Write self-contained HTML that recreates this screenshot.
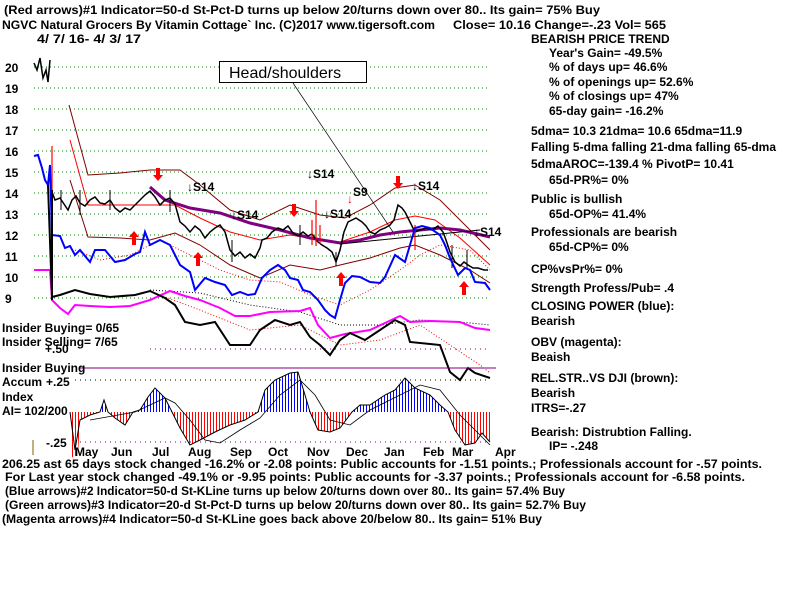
<!DOCTYPE html>
<html><head><meta charset="utf-8"><style>
html,body{margin:0;padding:0;background:#fff;width:800px;height:600px;overflow:hidden}
svg text{font-family:"Liberation Sans",sans-serif;font-weight:bold;font-size:12px;fill:#000}
</style></head><body>
<svg width="800" height="600" xmlns="http://www.w3.org/2000/svg">
<defs>
<pattern id="pb" width="3" height="10" patternUnits="userSpaceOnUse"><rect width="1" height="10" fill="#0000ff"/></pattern>
<pattern id="pr" width="3" height="10" patternUnits="userSpaceOnUse"><rect width="1" height="10" fill="#ff0000"/></pattern>
<clipPath id="ca"><rect x="0" y="300" width="800" height="112"/></clipPath>
<clipPath id="cb"><rect x="0" y="412" width="800" height="60"/></clipPath>
</defs>
<rect width="800" height="600" fill="#fff"/>
<text x="4" y="14" textLength="596" lengthAdjust="spacingAndGlyphs">(Red arrows)#1 Indicator=50-d St-Pct-D turns up below 20/turns down over 80.. Its gain= 75% Buy</text>
<text x="2" y="29" textLength="433" lengthAdjust="spacingAndGlyphs">NGVC  Natural Grocers By Vitamin Cottage` Inc.  (C)2017 www.tigersoft.com</text>
<text x="453" y="29" textLength="213" lengthAdjust="spacingAndGlyphs">Close=  10.16  Change=-.23 Vol= 565</text>
<text x="37" y="43" textLength="104" lengthAdjust="spacingAndGlyphs">4/ 7/ 16- 4/ 3/ 17</text>
<g stroke="#008000" stroke-dasharray="1,3" stroke-width="1">
<line x1="34" y1="67" x2="490" y2="67"/><line x1="34" y1="88" x2="490" y2="88"/><line x1="34" y1="109" x2="490" y2="109"/><line x1="34" y1="130" x2="490" y2="130"/><line x1="34" y1="151" x2="490" y2="151"/><line x1="34" y1="172" x2="490" y2="172"/><line x1="34" y1="193" x2="490" y2="193"/><line x1="34" y1="214" x2="490" y2="214"/><line x1="34" y1="235" x2="490" y2="235"/><line x1="34" y1="256" x2="490" y2="256"/><line x1="34" y1="277" x2="490" y2="277"/><line x1="34" y1="298" x2="490" y2="298"/>
</g>
<g><text x="5" y="72">20</text><text x="5" y="93">19</text><text x="5" y="114">18</text><text x="5" y="135">17</text><text x="5" y="156">16</text><text x="5" y="177">15</text><text x="5" y="198">14</text><text x="5" y="219">13</text><text x="5" y="240">12</text><text x="5" y="261">11</text><text x="5" y="282">10</text><text x="5" y="303">9</text></g>
<polyline fill="none" stroke="#800000" points="69,105 88,175 120,173 150,170 180,170 200,185 230,210 260,220 290,205 320,215 345,218 370,205 395,188 415,185 440,200 470,230 490,250"/>
<polyline fill="none" stroke="#800000" points="70,180 88,237 120,238 150,240 175,233 200,245 230,265 260,278 290,265 320,270 340,265 370,258 400,248 415,245 440,255 470,270 490,283"/>
<polyline fill="none" stroke="#ff0000" points="70,140 88,205 120,205 150,205 175,205 200,218 230,232 260,240 290,235 310,238 340,242 370,232 395,220 415,216 435,220 460,238 490,265"/>
<polyline fill="none" stroke="#ff0000" stroke-dasharray="1,2" points="75,250 100,260 130,255 160,240 190,255 220,270 250,280 280,282 310,295 340,305 370,290 400,270 420,255 440,245 470,250 490,270"/>
<polyline fill="none" stroke="#800080" stroke-width="3" points="150,187 165,200 190,208 220,213 250,223 280,230 310,238 340,243 360,240 380,235 400,232 420,230 440,228 460,230 490,237"/>
<line x1="340" y1="244" x2="480" y2="230" stroke="#000"/>
<polyline fill="none" stroke="#000" stroke-width="1.5" points="34,63 37,70 40,58 43,78 46,70 48,82 50,60"/>
<polyline fill="none" stroke="#000" stroke-width="1.5" points="52,192 55,200 60,198 64,204 68,210 72,200 76,196 80,203 85,206 90,200 95,197 100,203 105,204 110,200 115,208 120,212 125,208 130,210 135,205 140,200 145,195 150,191 155,197 160,205 165,200 170,198 175,204 180,222 185,226 190,232 195,226 200,230 205,238 210,232 215,228 220,225 225,232 230,250 235,256 240,252 245,258 250,254 255,258 260,248 262,240 267,238 272,232 278,228 283,230 288,226 293,233 298,236 303,232 308,236 312,234 318,242 322,245 327,248 332,252 336,262 340,250 344,232 348,222 352,220 356,218 362,222 366,226 370,232 375,234 380,230 385,228 390,225 394,220 398,205 402,208 405,212 410,222 415,232 420,230 426,228 432,230 438,226 443,232 446,240 450,252 455,262 460,266 464,262 468,265 473,268 478,268 484,270 488,270"/>
<g stroke="#000" stroke-width="1"><line x1="61" y1="190" x2="61" y2="210"/><line x1="80" y1="190" x2="80" y2="215"/><line x1="110" y1="190" x2="110" y2="210"/><line x1="170" y1="190" x2="170" y2="212"/><line x1="232" y1="240" x2="232" y2="262"/><line x1="300" y1="225" x2="300" y2="245"/><line x1="336" y1="252" x2="336" y2="266"/><line x1="452" y1="245" x2="452" y2="268"/><line x1="467" y1="250" x2="467" y2="268"/></g>
<g stroke="#ff0000" stroke-width="1.2"><line x1="52" y1="146" x2="52" y2="205"/><line x1="316" y1="200" x2="316" y2="246"/><line x1="312" y1="220" x2="312" y2="245"/><line x1="320" y1="225" x2="320" y2="244"/><line x1="415" y1="225" x2="415" y2="250"/></g>
<polyline fill="none" stroke="#0000ff" stroke-width="2" points="34,156 38,155 42,168 45,180 48,185 50,165 52,235 60,236 65,248 70,246 75,255 80,250 90,262 95,250 105,250 115,262 125,260 135,254 140,252 145,232 150,245 160,240 170,245 180,265 190,272 195,290 205,278 215,282 225,285 232,295 240,292 248,295 255,294 262,278 270,270 278,265 285,270 290,278 298,280 303,290 310,292 318,300 325,310 330,315 335,318 340,300 345,283 352,276 360,277 370,282 380,283 385,277 395,255 405,262 410,245 415,228 422,226 430,228 440,235 445,245 450,258 458,275 465,268 470,270 475,282 485,283 490,290"/>
<polyline fill="none" stroke="#000" stroke-dasharray="1,2" points="150,290 200,293 250,305 300,312 340,325 380,325 420,320 460,322 490,325"/>
<polyline fill="none" stroke="#ff0000" stroke-dasharray="1,2" points="160,295 200,310 250,330 300,325 340,345 380,340 420,325 450,345 480,365 490,373"/>
<polyline fill="none" stroke="#ff00ff" stroke-width="2" points="34,270 50,270 52,300 60,308 68,314 75,305 90,306 110,307 130,306 150,300 170,291 185,296 200,300 220,308 235,316 250,316 270,312 300,311 310,308 318,325 330,338 345,334 370,330 385,323 400,316 410,322 430,321 460,322 475,328 490,330"/>
<polyline fill="none" stroke="#000" stroke-width="2" points="48,185 52,297 60,295 75,290 90,294 110,297 135,295 150,291 165,298 175,305 185,322 200,325 215,322 230,345 250,345 260,330 275,320 290,325 300,322 310,337 320,345 330,355 340,340 350,333 365,340 380,330 395,320 405,325 410,342 430,344 440,345 450,372 460,380 468,368 475,373 490,378"/>
<line x1="52" y1="190" x2="52" y2="300" stroke="#000" stroke-width="2"/>
<g fill="#ff0000"><path d="M132,245 h4 v-8 h3 l-5,-6 l-5,6 h3z"/><path d="M196,266 h4 v-8 h3 l-5,-6 l-5,6 h3z"/><path d="M339,286 h4 v-8 h3 l-5,-6 l-5,6 h3z"/><path d="M462,295 h4 v-8 h3 l-5,-6 l-5,6 h3z"/><path d="M156,168 h4 v7 h3 l-5,6 l-5,-6 h3z"/><path d="M292,204 h4 v7 h3 l-5,6 l-5,-6 h3z"/><path d="M396,176 h4 v7 h3 l-5,6 l-5,-6 h3z"/></g>
<text x="347" y="203" style="fill:#ff0000">↓</text>
<g><text x="187" y="191">↓S14</text><text x="231" y="219">↓S14</text><text x="307" y="178">↓S14</text><text x="324" y="218">↓S14</text><text x="353" y="196">S9</text><text x="412" y="190">↓S14</text><text x="474" y="236">↓S14</text></g>
<rect x="219.5" y="61.5" width="147" height="21" fill="#fff" stroke="#000"/>
<text x="229" y="78" style="font-weight:normal;font-size:16px">Head/shoulders</text>
<line x1="293" y1="83" x2="393" y2="232" stroke="#000" stroke-width="0.7"/>
<line x1="150" y1="349" x2="490" y2="349" stroke="#800080" stroke-dasharray="1,4"/>
<line x1="80" y1="368" x2="496" y2="368" stroke="#800080"/>
<line x1="75" y1="380" x2="490" y2="380" stroke="#000" stroke-dasharray="1,4"/>
<line x1="75" y1="442" x2="490" y2="442" stroke="#800080" stroke-dasharray="1,4"/>
<text x="2" y="332">Insider Buying= 0/65</text>
<text x="2" y="346">Insider Selling= 7/65</text>
<text x="45" y="353">+.50</text>
<text x="2" y="372">Insider Buying</text>
<text x="2" y="386">Accum</text><text x="46" y="386">+.25</text>
<text x="2" y="401">Index</text>
<text x="2" y="415">AI= 102/200</text>
<text x="46" y="447">-.25</text>
<polygon clip-path="url(#ca)" fill="url(#pb)" points="70,412 75,450 80,420 90,415 100,412 104,400 108,412 115,418 125,425 133,412 140,410 148,397 155,388 165,398 172,412 180,428 190,445 200,440 215,432 230,425 245,420 258,412 265,390 275,380 290,373 298,372 305,395 310,412 318,430 330,432 340,428 352,412 360,405 370,405 385,395 395,390 405,378 415,388 430,395 440,405 448,412 455,430 465,445 475,443 482,433 490,442 490,412"/>
<polygon clip-path="url(#cb)" fill="url(#pr)" points="70,412 70,458 78,455 80,420 90,415 100,412 104,400 108,412 115,418 125,425 133,412 140,410 148,397 155,388 165,398 172,412 180,428 190,445 200,440 215,432 230,425 245,420 258,412 265,390 275,380 290,373 298,372 305,395 310,412 318,430 330,432 340,428 352,412 360,405 370,405 385,395 395,390 405,378 415,388 430,395 440,405 448,412 455,430 465,445 475,443 482,433 490,442 490,412"/>
<polyline fill="none" stroke="#000" points="70,412 75,450 80,420 90,415 100,412 104,400 108,412 115,418 125,425 133,412 140,410 148,397 155,388 165,398 172,412 180,428 190,445 200,440 215,432 230,425 245,420 258,412 265,390 275,380 290,373 298,372 305,395 310,412 318,430 330,432 340,428 352,412 360,405 370,405 385,395 395,390 405,378 415,388 430,395 440,405 448,412 455,430 465,445 475,443 482,433 490,442"/>
<polyline fill="none" stroke="#000" stroke-width="0.8" points="90,420 135,412 165,398 175,403 190,420 205,440 220,443 240,430 260,418 280,395 300,380 315,395 330,420 350,425 370,410 390,400 420,385 440,390 460,415 490,445"/>
<line x1="33" y1="440" x2="33" y2="455" stroke="#806000"/>
<g><text x="75" y="456">May</text><text x="111" y="456">Jun</text><text x="152" y="456">Jul</text><text x="188" y="456">Aug</text><text x="230" y="456">Sep</text><text x="268" y="456">Oct</text><text x="307" y="456">Nov</text><text x="346" y="456">Dec</text><text x="384" y="456">Jan</text><text x="423" y="456">Feb</text><text x="452" y="456">Mar</text><text x="495" y="456">Apr</text></g>
<text x="2" y="468" textLength="760" lengthAdjust="spacingAndGlyphs">206.25 ast 65 days stock changed -16.2% or -2.08 points:  Public accounts for -1.51 points.;  Professionals account for -.57 points.</text>
<text x="5" y="481" textLength="740" lengthAdjust="spacingAndGlyphs">For Last year stock changed -49.1% or -9.95 points:  Public accounts for -3.37 points.;  Professionals account for -6.58 points.</text>
<text x="5" y="495" textLength="560" lengthAdjust="spacingAndGlyphs">(Blue arrows)#2 Indicator=50-d St-KLine turns up below 20/turns down over 80.. Its gain= 57.4% Buy</text>
<text x="5" y="509" textLength="581" lengthAdjust="spacingAndGlyphs">(Green arrows)#3 Indicator=20-d St-Pct-D turns up below 20/turns down over 80.. Its gain= 52.7% Buy</text>
<text x="2" y="523" textLength="540" lengthAdjust="spacingAndGlyphs">(Magenta arrows)#4 Indicator=50-d St-KLine goes back above 20/below 80.. Its gain= 51% Buy</text>
<g>
<text x="531" y="43">BEARISH PRICE TREND</text>
<text x="549" y="57">Year's Gain= -49.5%</text>
<text x="549" y="71">% of days up= 46.6%</text>
<text x="549" y="86">% of openings up= 52.6%</text>
<text x="549" y="100">% of closings up= 47%</text>
<text x="549" y="115">65-day gain= -16.2%</text>
<text x="531" y="135">5dma= 10.3 21dma= 10.6 65dma=11.9</text>
<text x="531" y="151" textLength="245" lengthAdjust="spacingAndGlyphs">Falling 5-dma  falling 21-dma  falling 65-dma</text>
<text x="531" y="168">5dmaAROC=-139.4 %  PivotP= 10.41</text>
<text x="549" y="184">65d-PR%= 0%</text>
<text x="531" y="203">Public is bullish</text>
<text x="549" y="218">65d-OP%= 41.4%</text>
<text x="531" y="236">Professionals are bearish</text>
<text x="549" y="251">65d-CP%= 0%</text>
<text x="531" y="273">CP%vsPr%=  0%</text>
<text x="531" y="292">Strength Profess/Pub= .4</text>
<text x="531" y="310">CLOSING POWER (blue):</text>
<text x="531" y="325">Bearish</text>
<text x="531" y="346">OBV (magenta):</text>
<text x="531" y="361">Beaish</text>
<text x="531" y="382">REL.STR..VS DJI (brown):</text>
<text x="531" y="397">Bearish</text>
<text x="531" y="412">ITRS=-.27</text>
<text x="531" y="436">Bearish: Distrubtion Falling.</text>
<text x="549" y="450">IP= -.248</text>
</g>
</svg>
</body></html>
